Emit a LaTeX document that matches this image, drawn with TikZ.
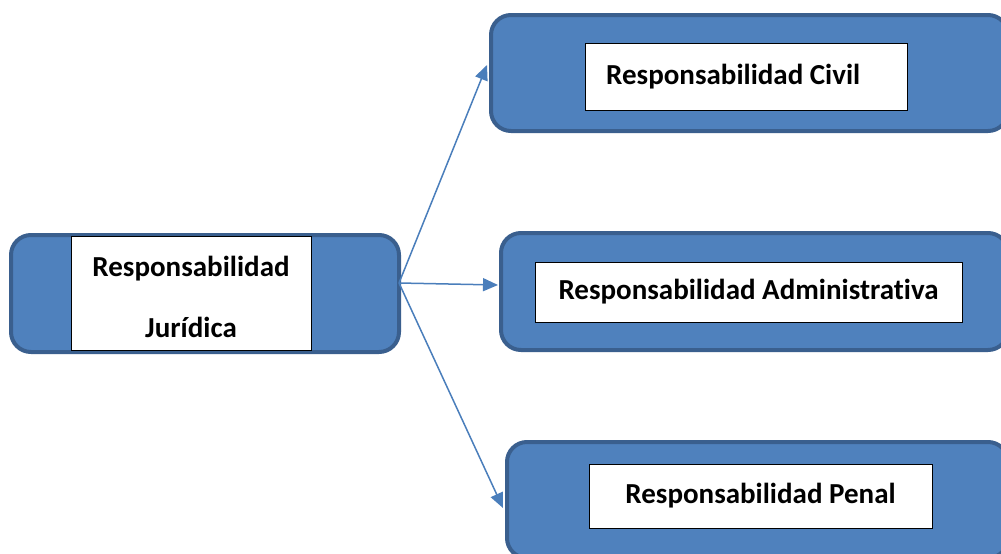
\documentclass[tikz,border=0pt]{standalone}
\usepackage{fontspec}
\setmainfont{Carlito}[RawFeature=-liga]
\usetikzlibrary{arrows.meta}
\definecolor{boxfill}{HTML}{4F81BD}
\definecolor{boxline}{HTML}{3A5F8E}
\definecolor{arrowc}{HTML}{4A7EBB}
\tikzset{
  outerbox/.style={draw=boxline, line width=4pt, fill=boxfill, rounded corners=20pt, inner sep=0pt},
  innerbox/.style={draw=black, line width=1pt, fill=white, inner sep=0pt, font=\fontsize{29}{61}\selectfont\bfseries, text=black},
  lbl/.style={inner sep=0pt, font=\fontsize{29}{61}\selectfont\bfseries, text=black},
  conn/.style={draw=arrowc, line width=1.5pt, -{Triangle[length=15pt,width=13pt]}}
}
\begin{document}
\begin{tikzpicture}[x=1pt,y=-1pt]
\useasboundingbox (0,0) rectangle (1001,554);
\fill[white] (0,0) rectangle (1001,554);
\clip (0,0) rectangle (1001,554);
% outer boxes
\node[outerbox, minimum width=388pt, minimum height=117pt] (ljur) at (205,293.5) {};
\node[outerbox, minimum width=517pt, minimum height=116pt] (civil) at (749.5,73) {};
\node[outerbox, minimum width=507pt, minimum height=117pt] (adm) at (754.5,291.5) {};
\node[outerbox, minimum width=501pt, minimum height=116pt] (pen) at (757.5,500) {};
% inner boxes
\node[innerbox, minimum width=240pt, minimum height=114pt] (ljurt) at (191,293) {};
\node[lbl, align=center] (ljurtx) at (191,297) {Responsabilidad\\Jurídica};
\node[innerbox, minimum width=322pt, minimum height=67pt] (civilt) at (746,76.5) {};
\node[lbl, anchor=west] (civiltx) at (606,76.5) {Responsabilidad Civil};
\node[innerbox, minimum width=427pt, minimum height=60pt] (admt) at (748.5,292) {Responsabilidad Administrativa};
\node[innerbox, minimum width=343pt, minimum height=64pt] (pent) at (760.5,496) {Responsabilidad Penal};
% connectors
\coordinate (src) at (399,283);
\coordinate (tciv) at (487,65);
\coordinate (tadm) at (498,285);
\coordinate (tpen) at (503,508);
\draw[conn] (src) -- (tciv);
\draw[conn] (src) -- (tadm);
\draw[conn] (src) -- (tpen);
\end{tikzpicture}
\end{document}
